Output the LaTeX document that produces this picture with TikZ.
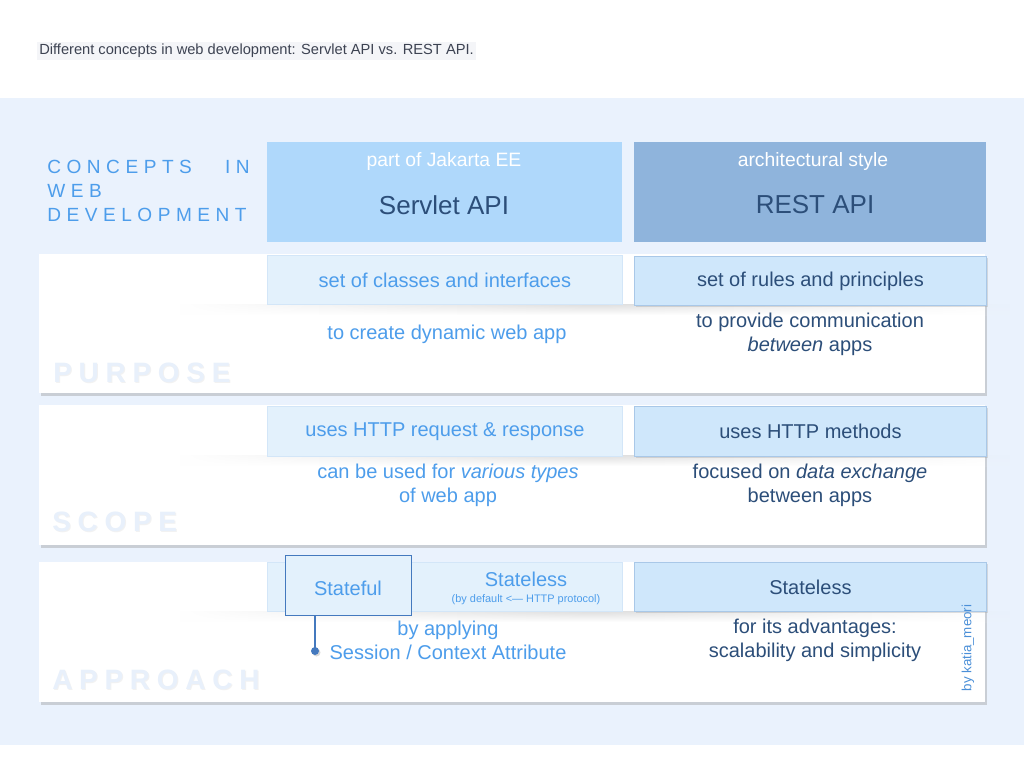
\documentclass[tikz,border=0pt]{standalone}
\usepackage{fontspec}
\setmainfont{Liberation Sans}
\usetikzlibrary{shadows,fadings}
\definecolor{bgblue}{HTML}{EAF2FD}
\definecolor{titlebg}{HTML}{F4F5F8}
\definecolor{titlegray}{HTML}{3D4352}
\definecolor{hdrA}{HTML}{AFD8FB}
\definecolor{hdrB}{HTML}{8FB4DC}
\definecolor{cellA}{HTML}{E3F1FC}
\definecolor{cellAline}{HTML}{D3E6F8}
\definecolor{cellB}{HTML}{CFE7FB}
\definecolor{cellBline}{HTML}{A9C8E8}
\definecolor{txtblue}{HTML}{4D9DEB}
\definecolor{txtdark}{HTML}{2C4E79}
\definecolor{faint}{HTML}{E8F0FB}
\definecolor{statline}{HTML}{4479BE}
\definecolor{credit}{HTML}{4A8FD8}
\tikzfading[name=hfade, left color=transparent!100, right color=transparent!100, middle color=transparent!0]
\newcommand{\fs}[1]{\fontsize{#1}{1.2\dimexpr#1\relax}\selectfont}
\tikzset{
  card/.style={fill=white, draw=none, anchor=north west, inner sep=0pt,
    drop shadow={shadow xshift=1.5pt, shadow yshift=-2pt, opacity=0.35, fill=black!45}},
  hdrbox/.style={draw=none, inner sep=0pt, anchor=north west},
  cellA/.style={fill=cellA, draw=cellAline, line width=0.6pt, inner sep=0pt, anchor=north west,
    text=txtblue, font=\fs{15pt}},
  cellB/.style={fill=cellB, draw=cellBline, line width=0.6pt, inner sep=0pt, anchor=north west,
    text=txtdark, font=\fs{15pt},
    drop shadow={shadow xshift=1.2pt, shadow yshift=-1.2pt, opacity=0.3, fill=black!40}},
  bodyA/.style={text=txtblue, font=\fontsize{15pt}{18pt}\selectfont, align=center, inner sep=0pt},
  bodyB/.style={text=txtdark, font=\fontsize{15pt}{18pt}\selectfont, align=center, inner sep=0pt},
  biglabel/.style={anchor=base west, inner sep=0pt, text=faint,
    font=\fontsize{21pt}{24pt}\selectfont\bfseries\addfontfeature{LetterSpace=24}},
  biglabelshadow/.style={biglabel, text=black, opacity=0.05},
  concept/.style={anchor=base west, inner sep=0pt, text=txtblue,
    font=\fontsize{14.3pt}{17pt}\selectfont\addfontfeature{LetterSpace=29}},
  softshadow/.style={top color=black!13, bottom color=white, path fading=hfade},
  statebox/.style={draw=statline, line width=1.1pt, fill=cellA, inner sep=0pt, anchor=north west},
}
\begin{document}
\begin{tikzpicture}[x=0.75pt,y=-0.75pt]
\useasboundingbox (0,0) rectangle (1024,768);
\fill[white] (0,0) rectangle (1024,768);
\fill[bgblue] (0,98) rectangle (1024,745);

% title
\node[anchor=west, fill=titlebg, inner sep=1.5pt, text=titlegray, font=\fs{11pt}] (title) at (37,51)
  {Different concepts in web development: Servlet API vs. REST API.};

% concept heading
\node[concept] (c1) at (47,173) {CONCEPTS};
\node[concept, anchor=base east] (c1b) at (250,173) {IN};
\node[concept] (c2) at (47,197) {WEB};
\node[concept] (c3) at (47,221) {DEVELOPMENT};

% headers
\node[hdrbox, fill=hdrA, minimum width=355*0.75pt, minimum height=100*0.75pt] (hA) at (267,142) {};
\node[hdrbox, fill=hdrB, minimum width=352*0.75pt, minimum height=100*0.75pt] (hB) at (634,142) {};
\node[text=white, font=\fs{14.5pt}, inner sep=0pt] (hAsub) at (444,161) {part of Jakarta EE};
\node[text=white, font=\fs{14.5pt}, inner sep=0pt] (hBsub) at (813,161) {architectural style};
\node[text=txtdark, font=\fs{19.5pt}, inner sep=0pt] (hAtit) at (444,205) {Servlet API};
\node[text=txtdark, font=\fs{19.5pt}, inner sep=0pt] (hBtit) at (815,205) {REST API};

% cards
\node[card, minimum width=946*0.75pt, minimum height=139*0.75pt] (purpose) at (39,254) {};
\node[card, minimum width=946*0.75pt, minimum height=140*0.75pt] (scope) at (39,405) {};
\node[card, minimum width=946*0.75pt, minimum height=140*0.75pt] (approach) at (39,562) {};

% soft shadows under row cells
\shade[softshadow] (180,304) rectangle (1010,315);
\shade[softshadow] (180,455) rectangle (1010,466);
\shade[softshadow] (180,611) rectangle (1010,622);

% big faint labels
\node[biglabelshadow] at (54,383.5) {PURPOSE};
\node[biglabel] (lp) at (53,382) {PURPOSE};
\node[biglabelshadow] at (53,532.5) {SCOPE};
\node[biglabel] (ls) at (52,531) {SCOPE};
\node[biglabelshadow] at (53,690.5) {APPROACH};
\node[biglabel] (la) at (52,689) {APPROACH};

% row 1
\node[cellA, minimum width=355*0.75pt, minimum height=49*0.75pt] (p1) at (267,255) {set of classes and interfaces};
\node[cellB, minimum width=352*0.75pt, minimum height=49*0.75pt] (p2) at (634,256) {set of rules and principles};
\node[bodyA] (p1t) at (447,334) {to create dynamic web app};
\node[bodyB] (p2t) at (810,334) {to provide communication\\\textit{between} apps};

% row 2
\node[cellA, minimum width=355*0.75pt, minimum height=50*0.75pt] (s1) at (267,406) {uses HTTP request \& response};
\node[cellB, minimum width=352*0.75pt, minimum height=50*0.75pt] (s2) at (634,406) {uses HTTP methods};
\node[bodyA] (s1t) at (448,485) {can be used for \textit{various types}\\of web app};
\node[bodyB] (s2t) at (810,485) {focused on \textit{data exchange}\\between apps};

% row 3
\node[cellA, minimum width=355*0.75pt, minimum height=49*0.75pt] (a1) at (267,562) {};
\node[cellB, minimum width=352*0.75pt, minimum height=49*0.75pt] (a2) at (634,562) {Stateless};
\node[statebox, minimum width=126*0.75pt, minimum height=60*0.75pt] (stateful) at (285,555) {};
\node[text=txtblue, font=\fs{15pt}, inner sep=0pt] (statefultxt) at (348,588) {Stateful};
\node[text=txtblue, font=\fs{15pt}, inner sep=0pt] (stateless) at (526,579) {Stateless};
\node[text=txtblue, font=\fs{8.2pt}, inner sep=0pt] (default) at (526,600) {(by default <— HTTP protocol)};
\node[bodyA] (a1t) at (448,640) {by applying\\Session / Context Attribute};
\node[bodyB] (a2t) at (815,640) {for its advantages:\\scalability and simplicity};
\coordinate (dot) at (315,651);
\draw[statline, line width=1.3pt] (dot |- stateful.south) -- (dot);
\fill[black, opacity=0.15] ([shift={(1.5,1.5)}]dot) circle[radius=3pt];
\fill[statline] (dot) circle[radius=3pt];

% credit
\node[rotate=90, text=credit, font=\fs{10pt}, inner sep=0pt] (credit) at (968,648) {by katia\_meori};
\end{tikzpicture}
\end{document}
